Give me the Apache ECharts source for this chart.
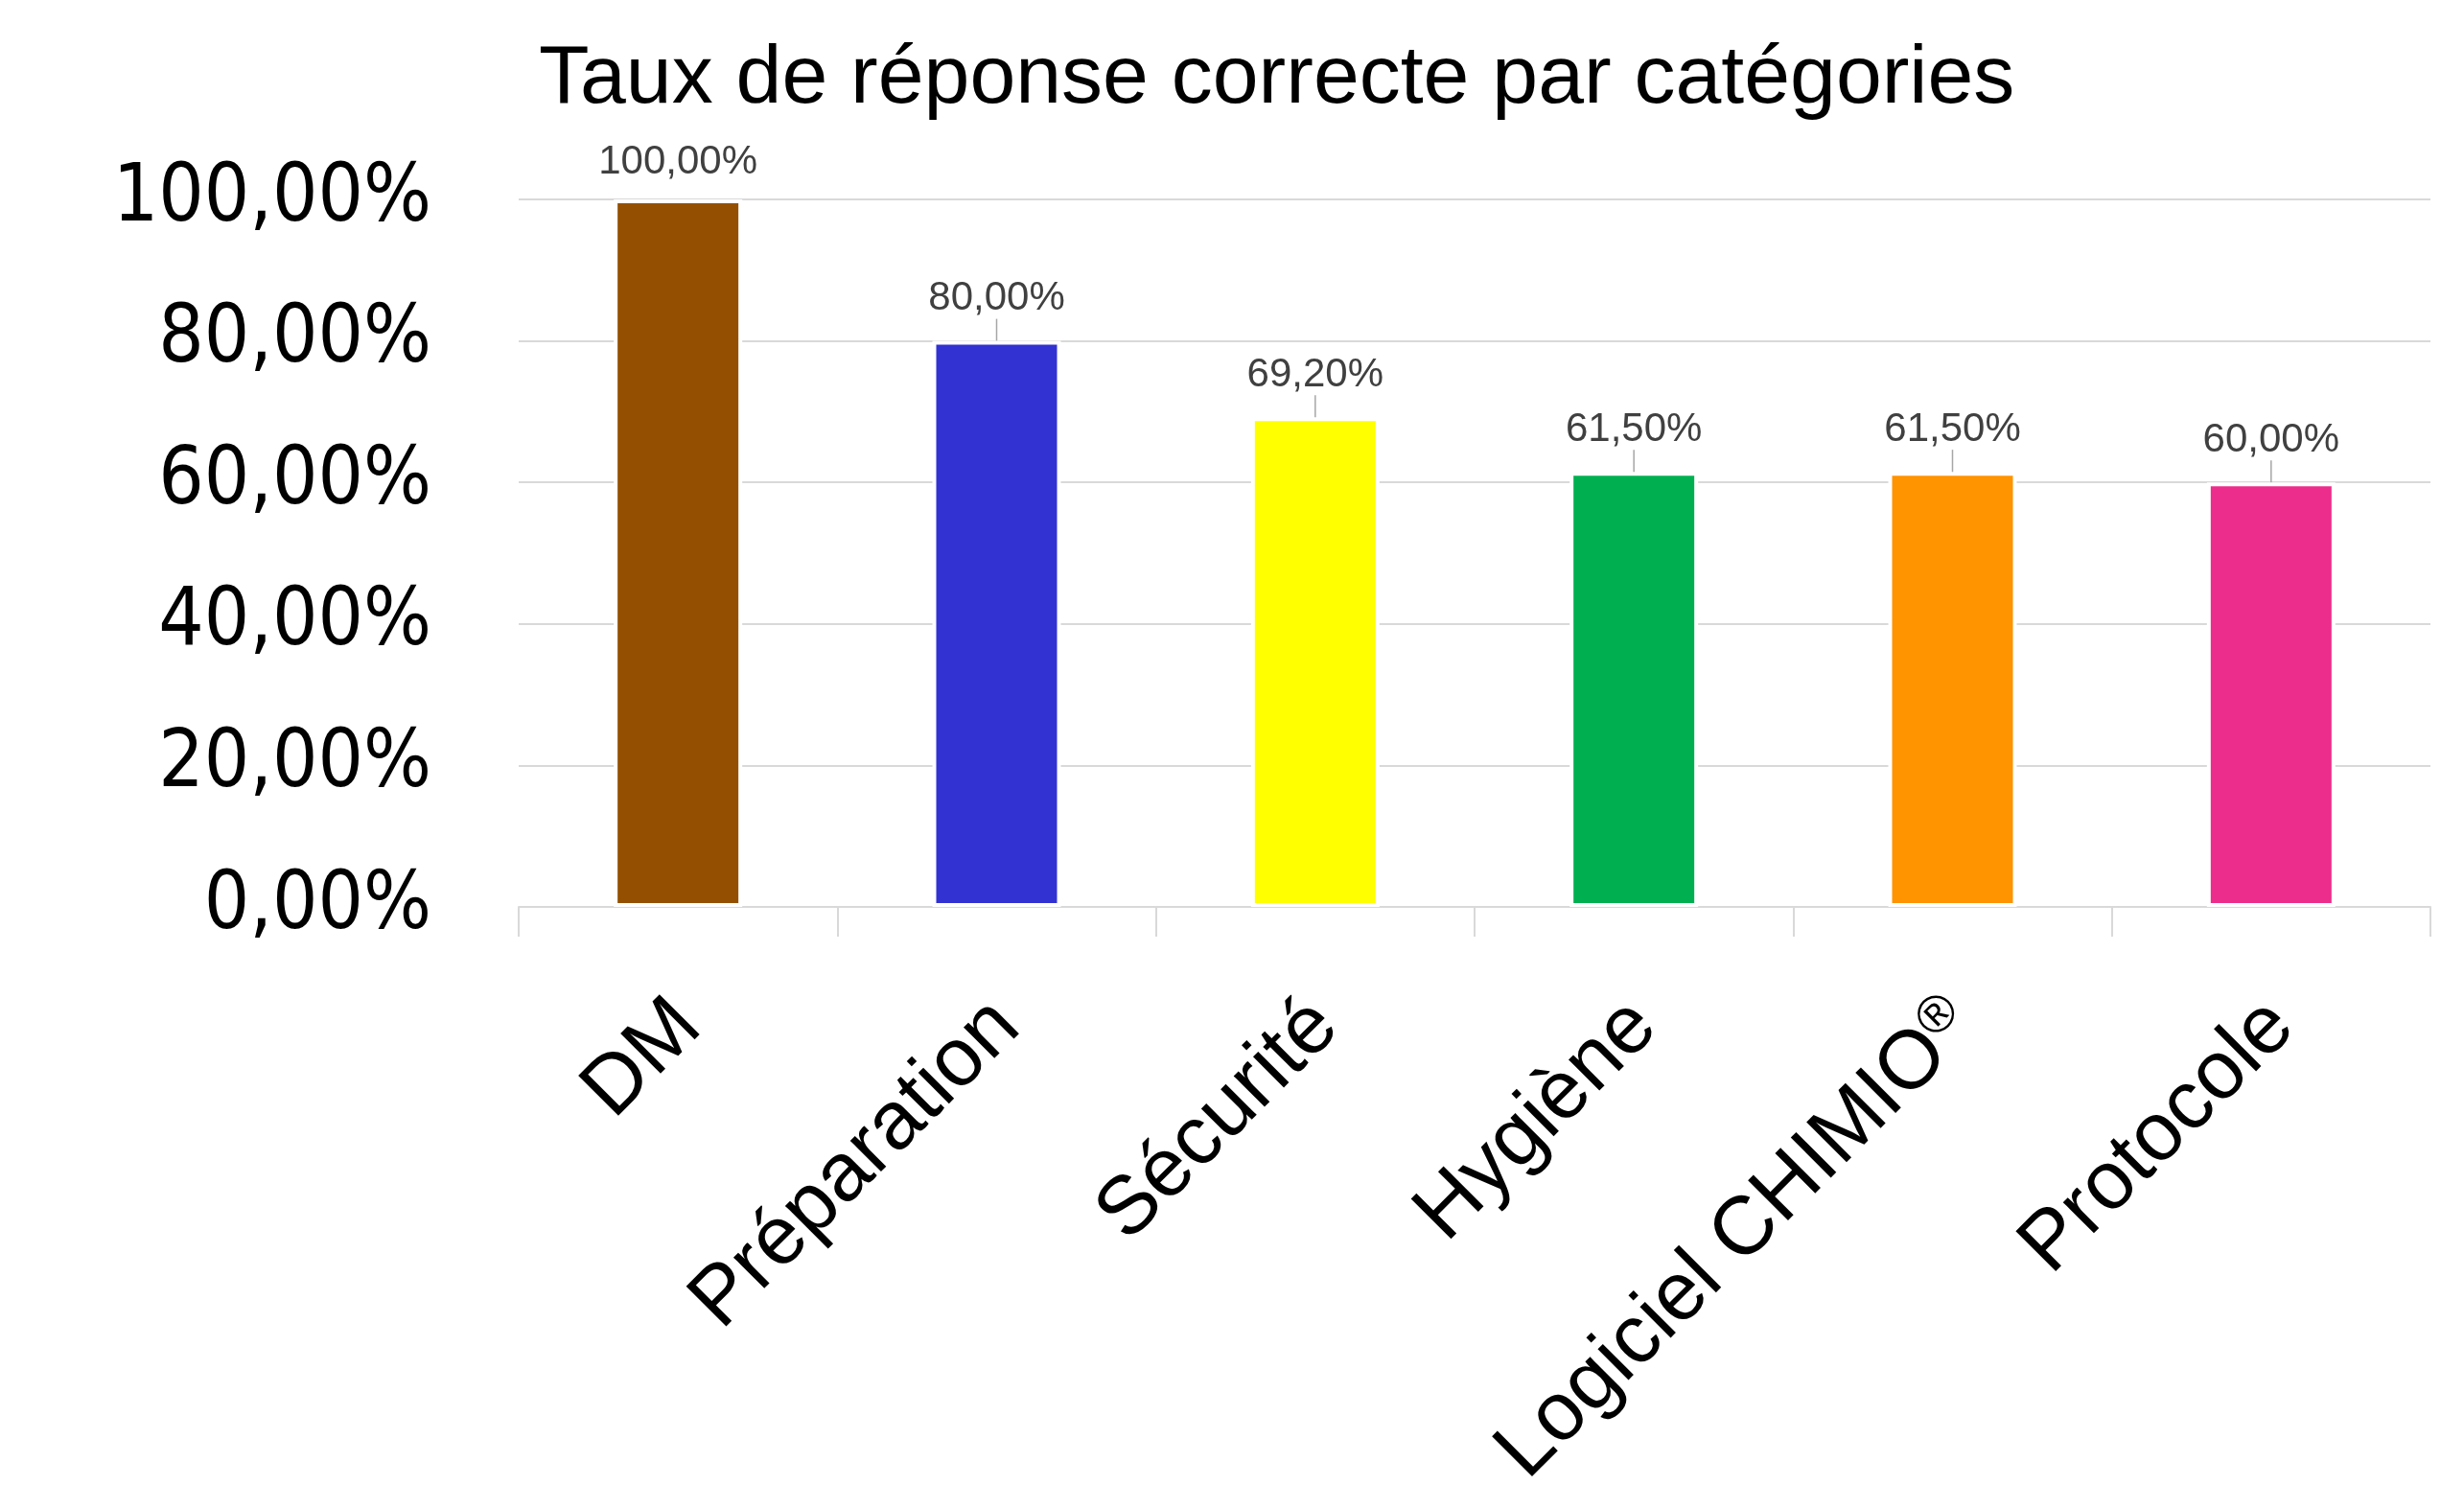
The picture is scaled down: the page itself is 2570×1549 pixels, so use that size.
<!DOCTYPE html>
<html>
<head>
<meta charset="utf-8">
<script src="https://cdn.jsdelivr.net/npm/echarts@6/dist/echarts.min.js"></script>
<style>
html, body { margin: 0; padding: 0; background: #ffffff; }
#chart { width: 2570px; height: 1549px; }
</style>
</head>
<body>
<div id="chart"></div>
<script>
const titleText = 'Taux de réponse correcte par catégories';
const categories = ['DM', 'Préparation', 'Sécurité', 'Hygiène', 'Logiciel CHIMIO®', 'Protocole'];
const values = [100, 80, 69.2, 61.5, 61.5, 60];
const barColors = ['#945000', '#3232D2', '#FFFF00', '#00B050', '#FF9300', '#EC2D8C'];
const yTicks = { min: 0, max: 100, interval: 20 };

function fmtPct(v) { return Number(v).toFixed(2).replace('.', ',') + '%'; }

const chart = echarts.init(document.getElementById('chart'), null, { renderer: 'canvas' });

const dataItems = values.map((v, i) => ({
  value: v,
  itemStyle: { color: barColors[i] },
  labelLine: { show: i !== 0 }
}));

chart.setOption({
  backgroundColor: '#ffffff',
  animation: false,
  title: {
    text: titleText,
    left: 557,
    top: 35,
    textStyle: { fontFamily: 'Liberation Sans', fontSize: 86, fontWeight: 'normal', color: '#000000' }
  },
  grid: { left: 541, right: 35, top: 208, bottom: 603, outerBoundsMode: 'none', containLabel: false },
  xAxis: {
    type: 'category',
    data: categories,
    axisLine: { show: true, lineStyle: { color: '#d9d9d9', width: 2 } },
    axisTick: { show: true, length: 31, lineStyle: { color: '#d9d9d9', width: 2 } },
    axisLabel: {
      rotate: 45,
      margin: 122,
      interval: 0,
      padding: [0, -15, 0, 0],
      fontFamily: 'Liberation Sans',
      fontSize: 86,
      color: '#000000',
      formatter: v => v.replace('®', '{sup|®}'),
      rich: {
        sup: { fontFamily: 'Liberation Sans', fontSize: 54, color: '#000000', verticalAlign: 'top' }
      }
    }
  },
  yAxis: {
    type: 'value',
    min: yTicks.min,
    max: yTicks.max,
    interval: yTicks.interval,
    axisLine: { show: false },
    axisTick: { show: false },
    splitLine: { show: true, lineStyle: { color: '#d9d9d9', width: 2 } },
    axisLabel: {
      margin: 91,
      fontFamily: 'DejaVu Sans Condensed',
      fontSize: 83,
      color: '#000000',
      formatter: fmtPct
    }
  },
  series: [{
    type: 'bar',
    data: dataItems,
    barWidth: 134,
    itemStyle: { borderColor: '#ffffff', borderWidth: 4 },
    label: {
      show: true,
      position: 'top',
      distance: 0,
      padding: [0, 0, 10, 0],
      fontFamily: 'Liberation Sans',
      fontSize: 42,
      color: '#404040',
      formatter: p => fmtPct(p.value)
    },
    labelLayout: params => ({ dy: params.dataIndex === 0 ? -8 : -13 }),
    labelLine: { show: true, lineStyle: { color: '#a6a6a6', width: 1.5 } }
  }]
});
</script>
</body>
</html>
